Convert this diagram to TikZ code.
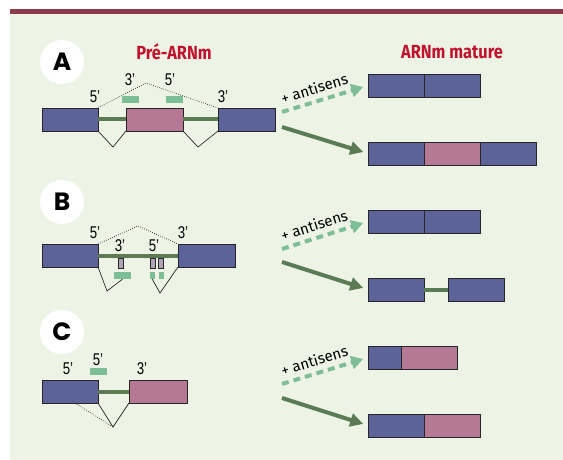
\documentclass[tikz,border=0pt]{standalone}
\usepackage{fontspec}
\setmainfont{Liberation Sans}
\newfontfamily\primefont[FakeStretch=0.78]{Liberation Sans}
\newfontfamily\titlefont[FakeStretch=0.86]{Fira Sans}
\newfontfamily\letterfont{Poppins}
\newfontfamily\notefont{Fira Sans}
\usetikzlibrary{arrows.meta,calc}

\definecolor{exonblue}{HTML}{5B6399}
\definecolor{exonpink}{HTML}{B57995}
\definecolor{introngreen}{HTML}{5B7B55}
\definecolor{oligogreen}{HTML}{7DBE96}
\definecolor{markgrey}{HTML}{B3A3B8}
\definecolor{panelbg}{HTML}{EEF4E5}
\definecolor{bandred}{HTML}{8C3B4B}
\definecolor{titlered}{HTML}{C0122C}

\begin{document}
\begin{tikzpicture}[x=1pt, y=-1pt,
  exon/.style = {draw=black!85, line width=0.8pt, minimum height=23pt, inner sep=0pt, outer sep=0pt},
  intron/.style = {draw=introngreen, line width=4pt},
  splice/.style = {draw=black!85, line width=0.7pt},
  skip/.style = {draw=black!85, line width=0.6pt, dash pattern=on 0.8pt off 1.4pt},
  oligo/.style = {fill=oligogreen, inner sep=0pt, minimum height=7pt},
  sitemark/.style = {draw=black!85, fill=markgrey, line width=0.6pt, inner sep=0pt, minimum width=4.5pt, minimum height=10pt},
  prime/.style = {font=\primefont\fontsize{17}{17}\selectfont, inner sep=0pt},
  heading/.style = {font=\titlefont\bfseries\fontsize{19}{19}\selectfont, text=titlered, inner sep=0pt},
  letter/.style = {circle, fill=white, minimum size=44pt, inner sep=0pt, font=\letterfont\bfseries\fontsize{25}{25}\selectfont},
  antisense/.style = {draw=oligogreen, line width=4pt, dash pattern=on 7pt off 5pt, -{Triangle[length=12pt, width=13pt]}, shorten >=5pt},
  product/.style = {draw=introngreen, line width=4pt, -{Triangle[length=13pt, width=13pt]}, shorten >=5pt},
  note/.style = {font=\notefont\fontsize{15}{15}\selectfont, inner sep=0pt}]

  \useasboundingbox (0,0) rectangle (563,460);
  \fill[panelbg] (10,14) rectangle (563,460);
  \fill[bandred] (10,9) rectangle (563,14.5);

  \node[heading] (tpre) at (174,52) {Pré-ARNm};
  \node[heading] (tmat) at (452,52) {ARNm mature};

  % A
  \node[letter] (la) at (62,62) {A};
  \node[exon, fill=exonblue, minimum width=56pt] (a1) at (70,119.5) {};
  \node[exon, fill=exonpink, minimum width=57pt] (a2) at (154.5,119.5) {};
  \node[exon, fill=exonblue, minimum width=57pt] (a3) at (246.5,119.5) {};
  \draw[intron] (a1) -- (a2);
  \draw[intron] (a2) -- (a3);
  \draw[splice] (a1.south east) -- (113,147) -- (a2.south west);
  \draw[splice] (a2.south east) -- (198,147) -- (a3.south west);
  \draw[skip] (a1.north east) -- (146,83) -- (a3.north west);
  \node[oligo, minimum width=17pt] (ao1) at (130.5,99.5) {};
  \node[oligo, minimum width=17pt] (ao2) at (174.5,99.5) {};
  \node[prime] (ap1) at (95,97) {5’};
  \node[prime] (ap2) at (130,80) {3’};
  \node[prime] (ap3) at (170,80) {5’};
  \node[prime] (ap4) at (223,97) {3’};

  \node[exon, fill=exonblue, minimum width=56pt] (ma1) at (396,85.5) {};
  \node[exon, fill=exonblue, minimum width=56pt] (ma2) at (452,85.5) {};
  \node[exon, fill=exonblue, minimum width=56pt] (mb1) at (396,153.5) {};
  \node[exon, fill=exonpink, minimum width=56pt] (mb2) at (452,153.5) {};
  \node[exon, fill=exonblue, minimum width=56pt] (mb3) at (508,153.5) {};
  \coordinate (sa1) at (282,112);
  \coordinate (sa2) at (282,127);
  \draw[antisense] (sa1) -- (ma1.west) node[note, pos=0.42, above=5pt, sloped] {+ antisens};
  \draw[product] (sa2) -- (mb1.west);

  % B
  \node[letter] (lb) at (62,202) {B};
  \node[exon, fill=exonblue, minimum width=56pt] (b1) at (70,255.5) {};
  \node[exon, fill=exonblue, minimum width=57pt] (b2) at (206.5,255.5) {};
  \draw[intron] (b1) -- (b2);
  \draw[skip] (b1.north east) -- (138,226) -- (b2.north west);
  \node[sitemark] (bg1) at (121,263) {};
  \node[sitemark] (bg2) at (153,263) {};
  \node[sitemark] (bg3) at (160.7,263) {};
  \node[oligo, minimum width=17pt] (bo1) at (122.5,275.5) {};
  \node[oligo, minimum width=5pt] (bo2) at (152.3,275.5) {};
  \node[oligo, minimum width=5pt] (bo3) at (161.3,275.5) {};
  \draw[splice] (b1.south east) -- (107,291) -- (bo1.south);
  \draw[splice] (bo2.south) -- (160,293) -- (b2.south west);
  \node[prime] (bp1) at (95,233) {5’};
  \node[prime] (bp2) at (183,233) {3’};
  \node[prime] (bp3) at (120,246) {3’};
  \node[prime] (bp4) at (154,246) {5’};

  \node[exon, fill=exonblue, minimum width=56pt] (mc1) at (396,221.5) {};
  \node[exon, fill=exonblue, minimum width=56pt] (mc2) at (452,221.5) {};
  \node[exon, fill=exonblue, minimum width=56pt] (md1) at (396,289.5) {};
  \node[exon, fill=exonblue, minimum width=56pt] (md2) at (476,289.5) {};
  \draw[intron] (md1) -- (md2);
  \coordinate (sb1) at (282,249);
  \coordinate (sb2) at (282,262);
  \draw[antisense] (sb1) -- (mc1.west) node[note, pos=0.42, above=5pt, sloped] {+ antisens};
  \draw[product] (sb2) -- (md1.west);

  % C
  \node[letter] (lc) at (62,332) {C};
  \node[exon, fill=exonblue, minimum width=56pt] (c1) at (70,391.5) {};
  \node[exon, fill=exonpink, minimum width=58pt] (c2) at (158,391.5) {};
  \draw[intron] (c1) -- (c2);
  \coordinate (cv) at (113,427);
  \draw[splice] (c1.south east) -- (cv) -- (c2.south west);
  \draw[skip] ($(c1.south)+(5,0)$) -- (cv);
  \node[oligo, minimum width=17pt] (co1) at (98.5,371) {};
  \node[prime] (cp1) at (68,369) {5’};
  \node[prime] (cp2) at (98,360) {5’};
  \node[prime] (cp3) at (142,369) {3’};

  \node[exon, fill=exonblue, minimum width=33pt] (me1) at (384.5,357.5) {};
  \node[exon, fill=exonpink, minimum width=56pt] (me2) at (429,357.5) {};
  \node[exon, fill=exonblue, minimum width=56pt] (mf1) at (396,425.5) {};
  \node[exon, fill=exonpink, minimum width=56pt] (mf2) at (452,425.5) {};
  \coordinate (sc1) at (282,384);
  \coordinate (sc2) at (282,398);
  \draw[antisense] (sc1) -- (me1.west) node[note, pos=0.42, above=5pt, sloped] {+ antisens};
  \draw[product] (sc2) -- (mf1.west);
\end{tikzpicture}
\end{document}
